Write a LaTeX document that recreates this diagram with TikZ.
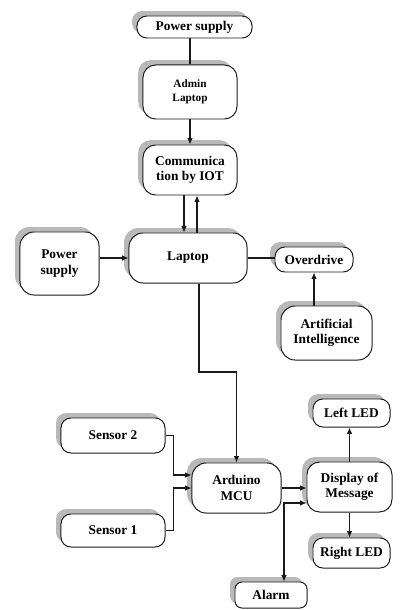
\documentclass[tikz,border=0pt]{standalone}
\usepackage{fontspec}
\setmainfont{Liberation Serif}
\usepackage{xcolor}
\usepackage{tikz}
\usetikzlibrary{positioning, arrows.meta, shadows}
\definecolor{BoxLine}{HTML}{1A1A1A}
\definecolor{BoxShade}{HTML}{B9B9B9}

\begin{document}
\begin{tikzpicture}[x=0.025cm, y=-0.025cm,
  block/.style={draw=BoxLine, line width=0.7pt, fill=white, rounded corners=7pt,
        align=center, inner sep=1pt, font=\bfseries\fontsize{9.5}{11}\selectfont,
        drop shadow={shadow xshift=-3.5pt, shadow yshift=3.5pt, fill=BoxShade, opacity=1}},
  link/.style={draw=BoxLine, line width=0.8pt, -{Latex[length=1.6mm, width=1.4mm]}}]
  \useasboundingbox[fill=white] (0,0) rectangle (400,610);
  % upper chain
  \node[block, minimum width=2.875cm, minimum height=0.55cm] (pstop) at (194.5,27) {Power supply};
  \node[block, minimum width=2.35cm, minimum height=1.35cm, rounded corners=9pt,
        font=\bfseries\fontsize{8}{10}\selectfont] (admin) at (190,92) {Admin\\Laptop};
  \node[block, minimum width=2.35cm, minimum height=1.25cm, rounded corners=9pt] (comm) at (190,170) {Communica\\tion by IOT};
  \node[block, minimum width=1.975cm, minimum height=1.575cm, rounded corners=10pt] (psleft) at (59.5,263.5) {Power\\supply};
  \node[block, minimum width=2.95cm, minimum height=1.25cm, rounded corners=10pt] (laptop) at (188,258) {Laptop};
  \node[block, minimum width=1.95cm, minimum height=0.625cm] (drive) at (314,259.5) {Overdrive};
  \node[block, minimum width=2.275cm, minimum height=1.35cm, rounded corners=10pt] (ai) at (326.5,333) {Artificial\\Intelligence};
  % lower part
  \node[block, minimum width=2.6cm, minimum height=0.875cm] (sensB) at (113,435.5) {Sensor 2};
  \node[block, minimum width=2.6cm, minimum height=0.825cm] (sensA) at (113,530.5) {Sensor 1};
  \node[block, minimum width=2.225cm, minimum height=1.25cm, rounded corners=10pt] (mcu) at (236.5,488) {Arduino\\MCU};
  \node[block, minimum width=2.125cm, minimum height=1.25cm, rounded corners=9pt] (disp) at (349.5,487) {Display of\\Message};
  \node[block, minimum width=1.925cm, minimum height=0.7cm] (ledL) at (351.5,413) {Left LED};
  \node[block, minimum width=1.925cm, minimum height=0.75cm] (ledR) at (351.5,553) {Right LED};
  \node[block, minimum width=1.8cm, minimum height=0.65cm, rounded corners=5pt] (alarm) at (271,595) {Alarm};
  \coordinate (split) at (199,372);
  \coordinate (joint) at (284,503);

  \draw[link, -] (admin.north |- pstop.south) -- (admin.north);
  \draw[link] (admin.south) -- (comm.north);
  \draw[link] ([xshift=-0.15cm]comm.south) -- ([xshift=-0.15cm]comm.south |- laptop.north);
  \draw[link] ([xshift=0.175cm]comm.south |- laptop.north) -- ([xshift=0.175cm]comm.south);
  \draw[link] (psleft.east |- laptop.west) -- (laptop.west);
  \draw[link, -] (laptop.east) -- (laptop.east -| drive.west);
  \draw[link] (ai.north -| drive.south) -- (drive.south);
  \draw[link] (laptop.south -| split) -- (split) -| (mcu.north);
  \draw[link] (sensB.east) -- ++(8,0) |- ([yshift=0.325cm]mcu.west);
  \draw[link] (sensA.east) -- ++(8,0) |- ([yshift=0.0cm]mcu.west);
  \draw[link] (mcu.east) -- (mcu.east -| disp.west);
  \draw[link, {Latex[length=1.6mm, width=1.4mm]}-{Latex[length=1.6mm, width=1.4mm]}]
        (alarm.north -| joint) -- (joint) -- (joint -| disp.west);
  \draw[link] (disp.north) -- (disp.north |- ledL.south);
  \draw[link] (disp.south) -- (disp.south |- ledR.north);
\end{tikzpicture}
\end{document}
